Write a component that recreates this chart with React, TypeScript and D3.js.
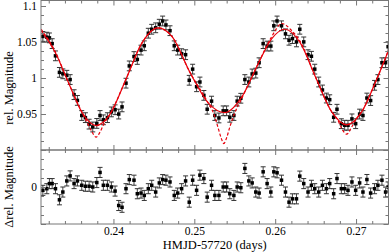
import React from 'react';
import * as d3 from 'd3';

// Observation times (HMJD-57720, days)
const OBS_T = [
  0.23121, 0.23170, 0.23202, 0.23236, 0.23277, 0.23326, 0.23368, 0.23417, 0.23458, 0.23507,
  0.23548, 0.23602, 0.23647, 0.23693, 0.23738, 0.23788, 0.23828, 0.23869, 0.23919, 0.23968,
  0.24014, 0.24059, 0.24100, 0.24149, 0.24190,
  0.24248, 0.24289, 0.24335, 0.24375, 0.24425, 0.24467, 0.24516, 0.24561, 0.24602, 0.24643,
  0.24693, 0.24746, 0.24788, 0.24837, 0.24886, 0.24931, 0.24973, 0.25022, 0.25063, 0.25112,
  0.25153, 0.25207, 0.25248, 0.25298, 0.25351, 0.25393, 0.25433, 0.25483, 0.25524, 0.25569,
  0.25619, 0.25668, 0.25709, 0.25754, 0.25795,
  0.25845, 0.25894, 0.25940, 0.25977, 0.26017, 0.26072, 0.26121, 0.26165, 0.26207, 0.26257,
  0.26298, 0.26347, 0.26400, 0.26442, 0.26483, 0.26532, 0.26578, 0.26627, 0.26668, 0.26717,
  0.26758, 0.26812, 0.26853, 0.26894, 0.26943, 0.26989, 0.27038, 0.27079, 0.27128, 0.27174,
  0.27223, 0.27264, 0.27314, 0.27359, 0.27390,
];

// Relative magnitudes
const OBS_MAG = [
  1.058, 1.057, 1.056, 1.048, 1.031, 1.008, 1.006, 1.004, 0.998, 0.977,
  0.969, 0.948, 0.945, 0.936, 0.932, 0.937, 0.948, 0.942, 0.945, 0.953,
  0.956, 0.950, 0.960, 0.993, 1.017,
  1.030, 1.026, 1.039, 1.045, 1.0625, 1.068, 1.070, 1.075, 1.0795, 1.074,
  1.066, 1.045, 1.039, 1.034, 1.0326, 0.997, 1.0125, 0.988, 0.9946, 0.976,
  0.9567, 0.968, 0.948, 0.9446, 0.9545, 0.9545, 0.9455, 0.948, 0.968, 0.972,
  0.998, 0.9946, 1.0058, 1.007, 1.0214,
  1.048, 1.0446, 1.0446, 1.0728, 1.0795, 1.0728, 1.0616, 1.0527, 1.055, 1.0504,
  1.068, 1.0504, 1.0326, 1.0304, 1.0125, 0.9946, 0.9835, 0.9723, 0.970, 0.9455,
  0.9567, 0.9366, 0.9344, 0.9344, 0.9433, 0.9366, 0.950, 0.948, 0.9723, 0.9688,
  0.990, 0.998, 1.0214, 1.0214, 1.0437,
];

// Residuals (data - model)
const RESID = [
  -0.0045, -0.0023, 0.0046, 0.0046, -0.0023, -0.0173, -0.0068, 0.0082, 0.015, 0.0046,
  0.0082, 0.0023, 0.001, 0.001, 0.0, 0.006, 0.0197, 0.0023, 0.0023, 0.0,
  -0.0055, -0.025, -0.0274, -0.0023, 0.010,
  0.0092, -0.0091, -0.0082, -0.0114, -0.0023, 0.0023, -0.0068, 0.0055, 0.010, 0.0092,
  0.0068, -0.0114, -0.0082, -0.0023, 0.0082, -0.0205, 0.0092, -0.0045, 0.016, 0.0114,
  -0.0137, 0.0023, -0.0114, -0.0114, 0.0, 0.0, -0.0091, -0.0114, 0.0, -0.001,
  0.0251, 0.0082, 0.0055, -0.0068, -0.0082,
  0.0205, 0.0046, -0.0068, 0.0205, 0.0192, 0.0092, -0.0068, -0.0205, -0.016, -0.016,
  0.0147, 0.0046, -0.0068, 0.0023, -0.0023, -0.0068, 0.0023, -0.0023, 0.0046, -0.0091,
  0.0114, -0.0023, -0.0023, -0.0045, 0.0068, -0.0045, 0.0055, -0.0068, 0.0101, -0.0082,
  -0.0023, 0.0023, 0.0092, -0.0068, 0.0,
];

const ERR = 0.0068;

// Solid model curve
const MODEL_T = [
  0.23100, 0.23273, 0.23433, 0.23606, 0.23779, 0.23952, 0.24162, 0.24347, 0.24544, 0.24717,
  0.24940, 0.25162, 0.25372, 0.25581, 0.25779, 0.25952, 0.26112, 0.26298, 0.26495, 0.26693,
  0.26878, 0.27063, 0.27236, 0.27400,
];
const MODEL_MAG = [
  1.066, 1.036, 0.995, 0.952, 0.934, 0.950, 1.002, 1.049, 1.070, 1.058,
  1.008, 0.966, 0.952, 0.974, 1.019, 1.055, 1.068, 1.050, 1.001, 0.953,
  0.935, 0.953, 0.995, 1.040,
];

// Dashed alternative model
const ALT_T = [
  0.23100, 0.23273, 0.23433, 0.23606, 0.23680, 0.23730, 0.23779, 0.23828, 0.23878, 0.23952,
  0.24162, 0.24347, 0.24544, 0.24717, 0.24940, 0.25162, 0.25236, 0.25285, 0.25322, 0.25359,
  0.25396, 0.25433, 0.25495, 0.25581, 0.25779, 0.25952, 0.26075, 0.26199, 0.26298, 0.26495,
  0.26693, 0.26767, 0.26816, 0.26878, 0.26940, 0.26989, 0.27063, 0.27236, 0.27400,
];
const ALT_MAG = [
  1.068, 1.037, 0.995, 0.952, 0.936, 0.925, 0.918, 0.925, 0.937, 0.950,
  1.002, 1.049, 1.070, 1.058, 1.008, 0.966, 0.950, 0.932, 0.918, 0.909,
  0.918, 0.932, 0.952, 0.972, 1.019, 1.058, 1.076, 1.066, 1.052, 1.001,
  0.953, 0.942, 0.930, 0.922, 0.932, 0.942, 0.953, 0.995, 1.040,
];

const X_TICKS = [0.24, 0.25, 0.26, 0.27];
const Y_TICKS_TOP = [0.95, 1, 1.05, 1.1];
const Y_TICKS_BOT = [0];

const W = 390;
const H = 252;
const L = 41;
const R = 388.5;
const T1 = 0.5;
const B1 = 150;
const B2 = 224;

const FONT = "'Liberation Serif', 'DejaVu Serif', serif";
const FRAME = '#777';

export default function App() {
  const x = d3.scaleLinear().domain([0.23098, 0.27395]).range([L, R]);
  const yT = d3.scaleLinear().domain([0.9, 1.108]).range([B1, T1]);
  const yB = d3.scaleLinear().domain([-0.05, 0.05]).range([B2, B1]);

  const solid = d3
    .line<number>()
    .x((_, i) => x(MODEL_T[i]))
    .y((d) => yT(d))
    .curve(d3.curveMonotoneX)(MODEL_MAG) as string;
  const dashed = d3
    .line<number>()
    .x((_, i) => x(ALT_T[i]))
    .y((d) => yT(d))
    .curve(d3.curveMonotoneX)(ALT_MAG) as string;

  const xMinor = d3.range(0.232, 0.2739, 0.002).filter((v) => X_TICKS.every((m) => Math.abs(m - v) > 1e-6));
  const yMinorT = d3.range(0.9, 1.108, 0.0125);
  const yMinorB = d3.range(-0.05, 0.0501, 0.0125);

  const xTickMarks = (yEdge: number, dir: number, key: string) => (
    <g key={key}>
      {X_TICKS.map((v) => (
        <line key={'M' + v} x1={x(v)} x2={x(v)} y1={yEdge} y2={yEdge + dir * 5} stroke={FRAME} />
      ))}
      {xMinor.map((v) => (
        <line key={'m' + v} x1={x(v)} x2={x(v)} y1={yEdge} y2={yEdge + dir * 3} stroke={FRAME} />
      ))}
    </g>
  );

  const yTickMarks = (scale: any, majors: number[], minors: number[], key: string) => (
    <g key={key}>
      {minors.map((v) => {
        const isMajor = majors.some((m) => Math.abs(m - v) < 1e-6);
        const len = isMajor ? 5 : 3;
        const yy = Math.round(scale(v)) + 0.5;
        return (
          <g key={v}>
            <line x1={L} x2={L + len} y1={yy} y2={yy} stroke={FRAME} />
            <line x1={R} x2={R - len} y1={yy} y2={yy} stroke={FRAME} />
          </g>
        );
      })}
    </g>
  );

  const errBars = (ys: number[], scale: any, key: string) => (
    <g key={key}>
      {ys.map((v, i) => {
        const cx = x(OBS_T[i]);
        const y0 = scale(v - ERR);
        const y1 = scale(v + ERR);
        return (
          <g key={i}>
            <line x1={cx} x2={cx} y1={y0} y2={y1} stroke="#444" strokeWidth={1} />
            <line x1={cx - 2.5} x2={cx + 2.5} y1={y0} y2={y0} stroke="#333" strokeWidth={1} />
            <line x1={cx - 2.5} x2={cx + 2.5} y1={y1} y2={y1} stroke="#333" strokeWidth={1} />
            <rect x={cx - 1.75} y={scale(v) - 1.75} width={3.5} height={3.5} fill="#000" />
          </g>
        );
      })}
    </g>
  );

  return (
    <svg width={W} height={H} style={{ position: 'absolute', left: 0, top: 0, background: '#fff' }}>
      <defs>
        <clipPath id="cTop">
          <rect x={L} y={T1} width={R - L} height={B1 - T1} />
        </clipPath>
        <clipPath id="cBot">
          <rect x={L} y={B1} width={R - L} height={B2 - B1} />
        </clipPath>
      </defs>

      {/* top panel data */}
      <g clipPath="url(#cTop)">
        {errBars(OBS_MAG, yT, 'eb1')}
        <path d={solid} fill="none" stroke="#e8000b" strokeWidth={1.2} />
        <path d={dashed} fill="none" stroke="#e8000b" strokeWidth={1.2} strokeDasharray="3,2" />
      </g>

      {/* bottom panel data */}
      <g clipPath="url(#cBot)">{errBars(RESID, yB, 'eb2')}</g>

      {/* frames */}
      <rect x={L} y={T1} width={R - L} height={B1 - T1} fill="none" stroke={FRAME} />
      <rect x={L} y={B1} width={R - L} height={B2 - B1} fill="none" stroke={FRAME} />

      {xTickMarks(T1, 1, 't1')}
      {xTickMarks(B1, -1, 'b1')}
      {xTickMarks(B1, 1, 't2')}
      {xTickMarks(B2, -1, 'b2')}
      {yTickMarks(yT, [0.9, ...Y_TICKS_TOP], yMinorT, 'yt')}
      {yTickMarks(yB, [-0.05, ...Y_TICKS_BOT, 0.05], yMinorB, 'yb')}

      {/* tick labels */}
      <g fontFamily={FONT} fontSize={11.5} fill="#000">
        {Y_TICKS_TOP.map((v) => (
          <text key={v} x={37} y={yT(v)} dy="0.35em" textAnchor="end">
            {String(v)}
          </text>
        ))}
        {Y_TICKS_BOT.map((v) => (
          <text key={v} x={37} y={yB(v)} dy="0.35em" textAnchor="end">
            {String(v)}
          </text>
        ))}
        {X_TICKS.map((v) => (
          <text key={v} x={x(v)} y={235} textAnchor="middle">
            {v.toFixed(2)}
          </text>
        ))}
      </g>

      {/* axis titles */}
      <g fontFamily={FONT} fontSize={12.5} fill="#000">
        <text x={(L + R) / 2} y={248.5} textAnchor="middle">
          HMJD-57720 (days)
        </text>
        <text transform={`translate(13,88) rotate(-90)`} textAnchor="middle">
          rel. Magnitude
        </text>
        <text transform={`translate(13,187) rotate(-90)`} textAnchor="middle">
          Δrel. Magnitude
        </text>
      </g>
    </svg>
  );
}
